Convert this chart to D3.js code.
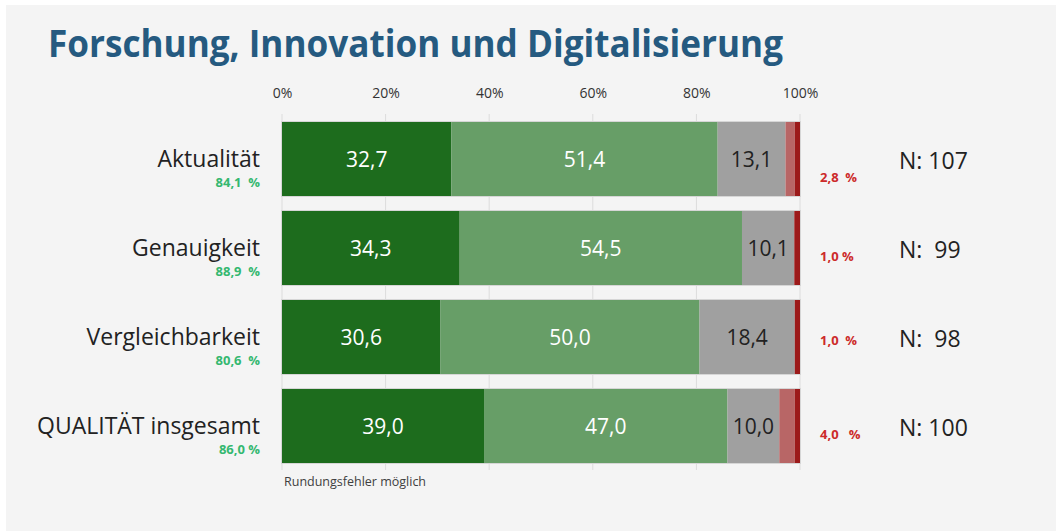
<!DOCTYPE html>
<html lang="de">
<head>
<meta charset="UTF-8">
<title>Forschung, Innovation und Digitalisierung</title>
<script src="https://cdn.jsdelivr.net/npm/d3@7/dist/d3.min.js"></script>
<style>
  body { margin: 0; background: #ffffff; }
  svg { display: block; }
  text { white-space: pre; }
</style>
</head>
<body>
<div id="chart"></div>
<script>
// categories and values
const categories = ["Aktualität", "Genauigkeit", "Vergleichbarkeit", "QUALITÄT insgesamt"];
const sehrGut     = [32.7, 34.3, 30.6, 39.0];
const eherGut     = [51.4, 54.5, 50.0, 47.0];
const teils       = [13.1, 10.1, 18.4, 10.0];
const eherSchlecht = [1.8, 0.0, 0.0, 3.0];
const schlecht    = [1.0, 1.1, 1.0, 1.0];
const positivLabels = ["84,1  %", "88,9  %", "80,6  %", "86,0 %"];
const negativLabels = ["2,8  %", "1,0 %", "1,0  %", "4,0   %"];
const nLabels = ["N: 107", "N:  99", "N:  98", "N: 100"];
const ticks = [0, 20, 40, 60, 80, 100];

const series = [
  { key: "sehrGut", values: sehrGut, color: "#1d6c1d", text: "#ffffff", show: true },
  { key: "eherGut", values: eherGut, color: "#679e67", text: "#ffffff", show: true },
  { key: "teils", values: teils, color: "#a0a0a0", text: "#222222", show: true },
  { key: "eherSchlecht", values: eherSchlecht, color: "#b86666", text: "#222222", show: false },
  { key: "schlecht", values: schlecht, color: "#9c1a1a", text: "#222222", show: false }
];

const width = 1056, height = 531;
const svg = d3.select("#chart").append("svg")
    .attr("width", width)
    .attr("height", height);

// grey panel
svg.append("rect")
    .attr("x", 6).attr("y", 5)
    .attr("width", width - 6).attr("height", height - 5)
    .attr("fill", "#f4f4f4");

// title
svg.append("text")
    .attr("x", 48)
    .attr("y", 57)
    .attr("font-family", "'Open Sans', sans-serif")
    .attr("font-weight", "bold")
    .attr("font-size", "37px")
    .attr("fill", "#255a80")
    .attr("textLength", 735)
    .attr("lengthAdjust", "spacingAndGlyphs")
    .text("Forschung, Innovation und Digitalisierung");

const x = d3.scaleLinear().domain([0, 100]).range([282, 800]);
const y = d3.scaleBand()
    .domain(categories)
    .range([114.5, 470.5])
    .paddingInner(0.1685)
    .paddingOuter(0.0843);

// gridlines
svg.append("g")
  .selectAll("line")
  .data(ticks)
  .join("line")
    .attr("x1", d => x(d)).attr("x2", d => x(d))
    .attr("y1", 114).attr("y2", 470)
    .attr("stroke", "#dcdcdc")
    .attr("stroke-width", 1);

// top axis labels
const axis = d3.axisTop(x).tickValues(ticks).tickFormat(d => d + "%").tickSize(0).tickPadding(0);
const axisG = svg.append("g")
    .attr("transform", "translate(0,98)")
    .call(axis);
axisG.select(".domain").remove();
axisG.selectAll("text")
    .attr("font-family", "'Open Sans', sans-serif")
    .attr("font-size", "14px")
    .attr("fill", "#333333")
    .attr("dy", 0);

// stacked bars
const rows = categories.map((c, i) => {
  let acc = 0;
  return series.map(s => {
    const seg = { cat: c, i: i, x0: acc, x1: acc + s.values[i], v: s.values[i], s: s };
    acc += s.values[i];
    return seg;
  });
});

const segs = rows.flat().filter(d => d.v > 0);

svg.append("g")
  .selectAll("rect")
  .data(segs)
  .join("rect")
    .attr("x", d => x(d.x0))
    .attr("y", d => y(d.cat))
    .attr("width", d => x(d.x1) - x(d.x0))
    .attr("height", y.bandwidth())
    .attr("fill", d => d.s.color);

// faint outline round each bar
svg.append("g")
  .selectAll("rect")
  .data(categories)
  .join("rect")
    .attr("x", x(0) - 0.5)
    .attr("y", d => y(d) - 0.5)
    .attr("width", x(100) - x(0) + 1)
    .attr("height", y.bandwidth() + 1)
    .attr("fill", "none")
    .attr("stroke", "#d6d6d6")
    .attr("stroke-width", 1);

// values in the segments
svg.append("g")
  .selectAll("text")
  .data(segs.filter(d => d.s.show))
  .join("text")
    .attr("x", d => (x(d.x0) + x(d.x1)) / 2)
    .attr("y", d => y(d.cat) + y.bandwidth() / 2 + 8)
    .attr("text-anchor", "middle")
    .attr("font-family", "'Open Sans', sans-serif")
    .attr("font-size", "21px")
    .attr("fill", d => d.s.text)
    .text(d => d.v.toFixed(1).replace(".", ","));

const mid = c => y(c) + y.bandwidth() / 2;

// category labels
svg.append("g")
  .selectAll("text")
  .data(categories)
  .join("text")
    .attr("x", 260)
    .attr("y", d => mid(d) + 8)
    .attr("text-anchor", "end")
    .attr("font-family", "'Open Sans', sans-serif")
    .attr("font-size", "23px")
    .attr("fill", "#222222")
    .text(d => d);

// positive share under the labels
svg.append("g")
  .selectAll("text")
  .data(categories)
  .join("text")
    .attr("x", 260)
    .attr("y", (d, i) => mid(d) + 28)
    .attr("text-anchor", "end")
    .attr("font-family", "'Open Sans', sans-serif")
    .attr("font-weight", "bold")
    .attr("font-size", "13px")
    .attr("fill", "#34b870")
    .text((d, i) => positivLabels[i]);

// negative share right of the bars
const redDy = [23, 13, 8, 13];
svg.append("g")
  .selectAll("text")
  .data(categories)
  .join("text")
    .attr("x", 820)
    .attr("y", (d, i) => mid(d) + redDy[i])
    .attr("font-family", "'Open Sans', sans-serif")
    .attr("font-weight", "bold")
    .attr("font-size", "13px")
    .attr("fill", "#cc2a2a")
    .text((d, i) => negativLabels[i]);

// N counts
svg.append("g")
  .selectAll("text")
  .data(categories)
  .join("text")
    .attr("x", 899)
    .attr("y", d => mid(d) + 10)
    .attr("font-family", "'Open Sans', sans-serif")
    .attr("font-size", "23px")
    .attr("fill", "#222222")
    .text((d, i) => nLabels[i]);

// footnote
svg.append("text")
    .attr("x", 284)
    .attr("y", 486)
    .attr("font-family", "'Open Sans', sans-serif")
    .attr("font-size", "12.5px")
    .attr("fill", "#404040")
    .text("Rundungsfehler möglich");
</script>
</body>
</html>
